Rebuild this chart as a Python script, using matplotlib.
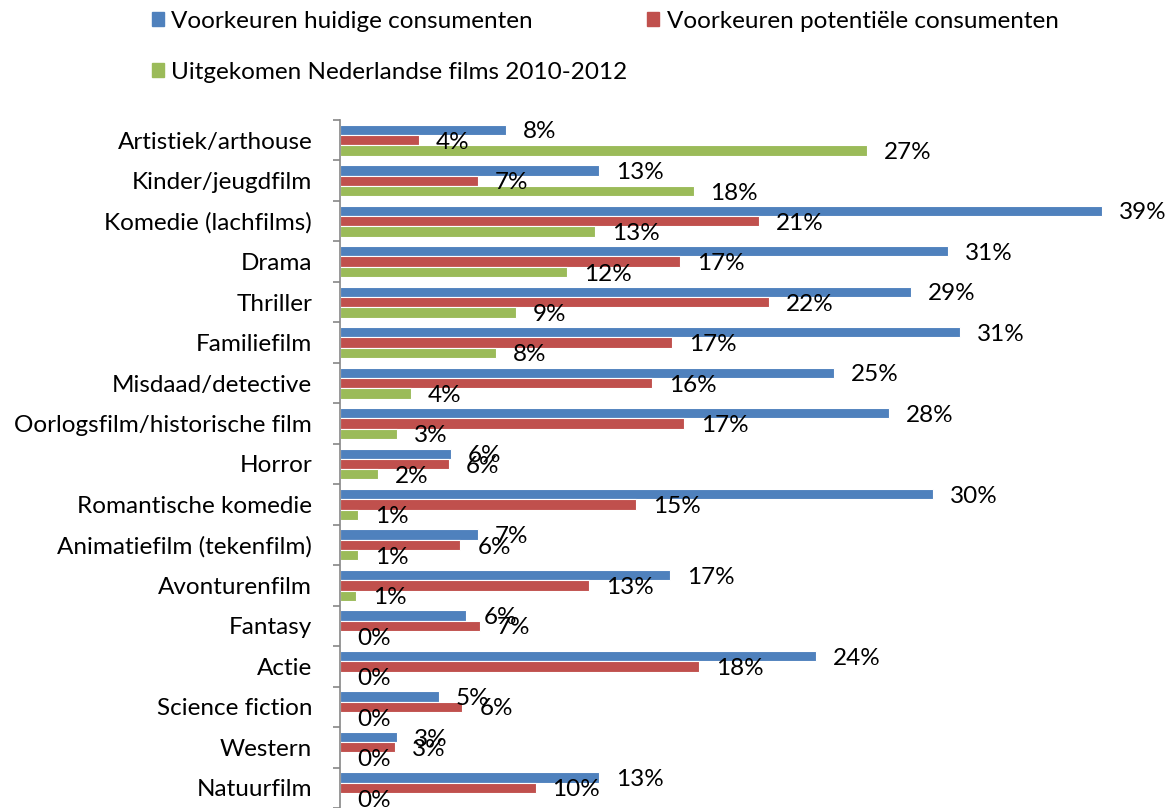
import numpy as np
import matplotlib
matplotlib.use("Agg")
import matplotlib.pyplot as plt
import matplotlib.patches as patches
from matplotlib.ticker import FixedLocator

# data, top to bottom as in the chart
categories = ['Artistiek/arthouse', 'Kinder/jeugdfilm', 'Komedie (lachfilms)', 'Drama',
              'Thriller', 'Familiefilm', 'Misdaad/detective', 'Oorlogsfilm/historische film',
              'Horror', 'Romantische komedie', 'Animatiefilm (tekenfilm)', 'Avonturenfilm',
              'Fantasy', 'Actie', 'Science fiction', 'Western', 'Natuurfilm']
huidig = [8.4, 13.1, 38.6, 30.8, 28.9, 31.4, 25.0, 27.8, 5.6, 30.0, 7.0, 16.7,
          6.4, 24.1, 5.0, 2.9, 13.1]
potentieel = [4.0, 7.0, 21.2, 17.2, 21.7, 16.8, 15.8, 17.4, 5.52, 15.0, 6.1, 12.6,
              7.1, 18.2, 6.2, 2.8, 9.9]
uitgekomen = [26.7, 17.9, 12.9, 11.5, 8.9, 7.9, 3.6, 2.9, 1.9, 0.9, 0.9, 0.8,
              0, 0, 0, 0, 0]
series_names = ['Voorkeuren huidige consumenten', 'Voorkeuren potentiële consumenten',
                'Uitgekomen Nederlandse films 2010-2012']
colors = ['#4F81BD', '#C0504D', '#9BBB59']

plt.rcParams['font.family'] = ['Lato', 'DejaVu Sans']
fs = 17.5

fig = plt.figure(figsize=(11.68, 8.08), dpi=100)
ax = fig.add_axes([340 / 1168, 0, 790 / 1168, 1 - 120 / 808])

y = np.arange(len(categories))
step = 0.255
for k, (vals, col) in enumerate(zip([huidig, potentieel, uitgekomen], colors)):
    pos = y + (k - 1) * step
    ax.barh(pos, vals, height=step, color=col, edgecolor='white', linewidth=0.8)
    for p, v in zip(pos, vals):
        ax.annotate('%.0f%%' % v, (v, p), xytext=(12.2, -1.5), textcoords='offset points',
                    ha='left', va='center', fontsize=fs, color='black', clip_on=False)

ax.set_xlim(0, 40)
ax.set_ylim(len(categories) - 0.5, -0.5)

for s in ['top', 'right', 'bottom']:
    ax.spines[s].set_visible(False)
ax.spines['left'].set_color('#868686')
ax.spines['left'].set_linewidth(1.2)
ax.set_xticks([])
ax.set_yticks(y)
ax.set_yticklabels(categories, fontsize=fs)
ax.tick_params(axis='y', which='major', length=0, pad=20)
ax.yaxis.set_minor_locator(FixedLocator(np.arange(-0.5, len(categories), 1)))
ax.tick_params(axis='y', which='minor', length=5, width=1.2, color='#868686')

# legend fills column by column: blue + green in the first, red in the second
order = [0, 2, 1]
handles = [patches.Patch(color=colors[i]) for i in order]
fig.legend(handles, [series_names[i] for i in order], ncol=2, loc='upper left',
           bbox_to_anchor=(152 / 1168, 1 - 11 / 808), borderaxespad=0, borderpad=0,
           frameon=False, fontsize=fs, handlelength=0.5, handleheight=0.5,
           handletextpad=0.3, columnspacing=0.8, labelspacing=1.23)

fig.savefig('out.png', dpi=100)
